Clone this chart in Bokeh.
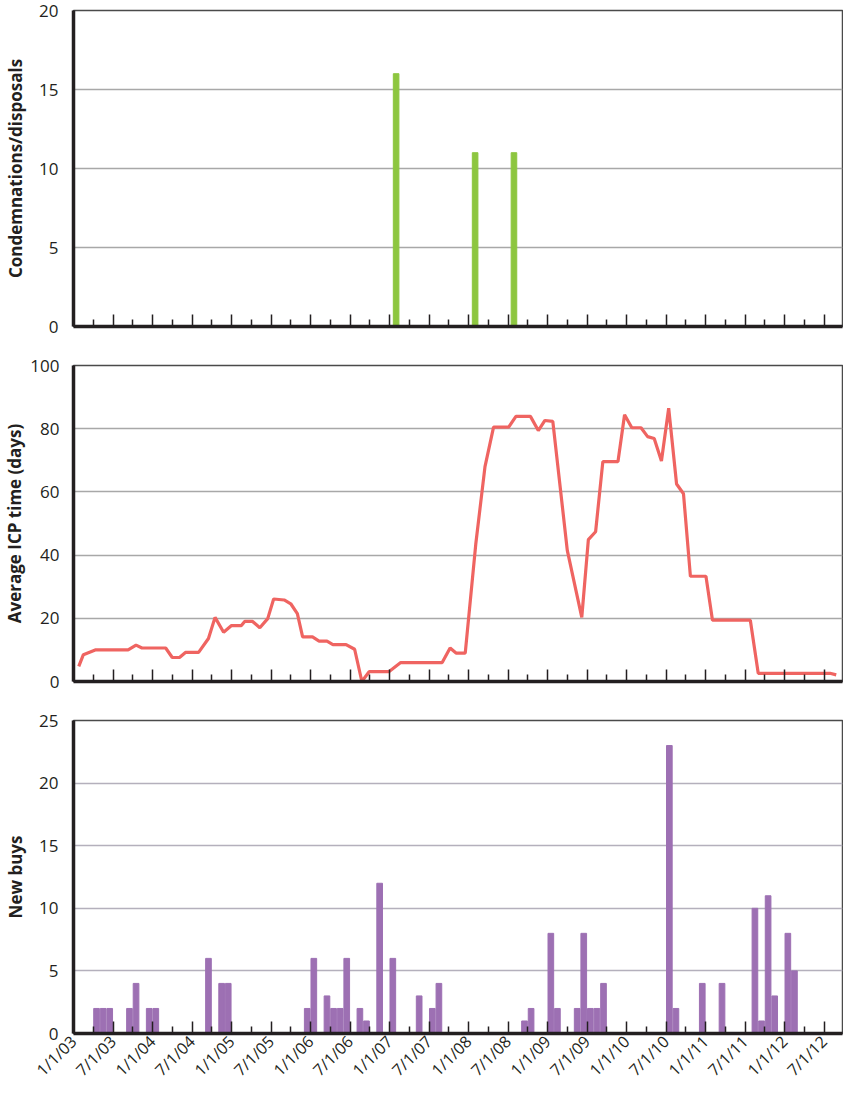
import math
from bokeh.plotting import figure
from bokeh.layouts import column
from bokeh.models import FixedTicker, Range1d
from bokeh.embed import file_html
from bokeh.resources import INLINE

# x positions are months since 1/1/03
tick_labels = ["1/1/03", "7/1/03", "1/1/04", "7/1/04", "1/1/05", "7/1/05", "1/1/06",
               "7/1/06", "1/1/07", "7/1/07", "1/1/08", "7/1/08", "1/1/09", "7/1/09",
               "1/1/10", "7/1/10", "1/1/11", "7/1/11", "1/1/12", "7/1/12"]
tick_months = [6 * i for i in range(len(tick_labels))]
minor_months = [6 * i + 3 for i in range(len(tick_labels) - 1)]

# Condemnations / disposals
cond_month = [49.0, 61.0, 66.9]
cond_value = [16, 11, 11]

# Average ICP time (days)
icp_month = [0.8, 1.5, 3.3, 8.3, 9.5, 10.4, 14.0, 15.0, 16.1, 17.0,
             19.0, 20.5, 21.5, 22.8, 24.0, 25.5, 26.0, 27.2, 28.3, 29.5,
             30.4, 32.0, 33.0, 34.0, 34.8, 36.3, 37.3, 38.5, 39.4, 41.4,
             42.7, 43.8, 44.9, 47.9, 49.7, 56.0, 57.2, 58.1, 59.5, 61.1,
             62.5, 63.8, 66.1, 67.2, 69.4, 70.6, 71.6, 72.8, 75.0, 77.2,
             78.2, 79.3, 80.4, 82.7, 83.7, 84.8, 86.2, 87.2, 88.2, 89.3,
             90.4, 91.6, 92.65, 93.7, 96.06, 97.05, 102.8, 104.0, 114.9, 115.85]
icp_value = [4.8, 8.5, 10, 10, 11.5, 10.6, 10.6, 7.6, 7.6, 9.2,
             9.2, 13.6, 20.3, 15.6, 17.7, 17.7, 19, 19, 17, 19.9,
             26.1, 25.8, 24.6, 21.5, 14.1, 14.1, 12.8, 12.8, 11.7, 11.7,
             10.2, 0, 3.1, 3.1, 6, 6, 10.6, 9, 9, 43.5,
             68, 80.5, 80.5, 83.9, 83.9, 79.4, 82.6, 82.3, 41.5, 20.3,
             44.9, 47.4, 69.6, 69.6, 84.4, 80.3, 80.3, 77.5, 76.9, 69.8,
             86.5, 62.5, 59.4, 33.3, 33.3, 19.4, 19.4, 2.6, 2.6, 2.1]

# New buys (monthly)
buy_month = [3, 4, 5, 8, 9, 11, 12, 20, 22, 23, 35, 36, 38, 39, 40, 41, 43, 44, 46, 48,
             52, 54, 55, 68, 69, 72, 73, 76, 77, 78, 79, 80, 90, 91, 95, 98, 103, 104,
             105, 106, 108, 109]
buy_value = [2, 2, 2, 2, 4, 2, 2, 6, 4, 4, 2, 6, 3, 2, 2, 6, 2, 1, 12, 6,
             3, 2, 4, 1, 2, 8, 2, 2, 8, 2, 2, 4, 23, 2, 4, 4, 10, 1,
             11, 3, 8, 5]

DARK = "#231f20"
FONT = "Open Sans"
X_END = 116.8


def make_fig(ymax, ystep, ylabel, top, bottom, height, label_standoff, tick_standoff,
             show_x_labels, grid_color):
    p = figure(width=843, height=height, x_range=Range1d(0, X_END), y_range=Range1d(0, ymax),
               output_backend="svg", toolbar_location=None,
               min_border_left=65, min_border_right=1, min_border_top=top, min_border_bottom=bottom)
    p.background_fill_color = "white"
    p.border_fill_color = "white"
    p.outline_line_color = "#4a4a4a"
    p.outline_line_width = 1.5
    p.xgrid.visible = False
    p.ygrid.grid_line_color = grid_color
    p.ygrid.grid_line_width = 1.3

    xa = p.xaxis[0]
    xa.ticker = FixedTicker(ticks=tick_months, minor_ticks=minor_months)
    xa.axis_line_color = DARK
    xa.axis_line_width = 3.5
    xa.major_tick_in = 12
    xa.major_tick_out = 0
    xa.minor_tick_in = 7
    xa.minor_tick_out = 0
    xa.major_tick_line_color = DARK
    xa.major_tick_line_width = 1.5
    xa.minor_tick_line_color = DARK
    xa.minor_tick_line_width = 1.5
    if show_x_labels:
        xa.major_label_overrides = {m: lab for m, lab in zip(tick_months, tick_labels)}
        xa.major_label_orientation = math.pi / 4
        xa.major_label_text_font = FONT
        xa.major_label_text_font_size = "16px"
        xa.major_label_text_color = DARK
        xa.major_label_standoff = 5
    else:
        xa.major_label_overrides = {m: "" for m in tick_months}
        xa.major_label_text_font_size = "8px"
        xa.major_label_standoff = 0

    ya = p.yaxis[0]
    ya.ticker = FixedTicker(ticks=list(range(0, ymax + 1, ystep)))
    ya.axis_line_color = DARK
    ya.axis_line_width = 3.5
    ya.major_tick_line_color = None
    ya.minor_tick_line_color = None
    ya.major_label_text_font = FONT
    ya.major_label_text_font_size = "17px"
    ya.major_label_text_color = DARK
    ya.major_label_standoff = tick_standoff
    ya.axis_label = ylabel
    ya.axis_label_text_font = FONT
    ya.axis_label_text_font_style = "bold"
    ya.axis_label_text_font_size = "17px"
    ya.axis_label_text_color = DARK
    ya.axis_label_standoff = label_standoff
    return p


p1 = make_fig(20, 5, "Condemnations/disposals", 10, 19, 345, 9, 9, False, "#a8a8a8")
p1.vbar(x=cond_month, top=cond_value, width=0.85, color="#8dc63f")

p2 = make_fig(100, 20, "Average ICP time (days)", 20, 19, 355, 1, 8, False, "#a8a8a8")
p2.line(x=icp_month, y=icp_value, line_color="#ef6461", line_width=3.2)

p3 = make_fig(25, 5, "New buys", 20, 55, 391, 9, 9, True, "#b4b0bc")
p3.vbar(x=[m + 0.5 for m in buy_month], top=buy_value, width=0.86, color="#9d70b3")

layout = column(p1, p2, p3, spacing=0)
open("out.html", "w").write(file_html(layout, INLINE))
